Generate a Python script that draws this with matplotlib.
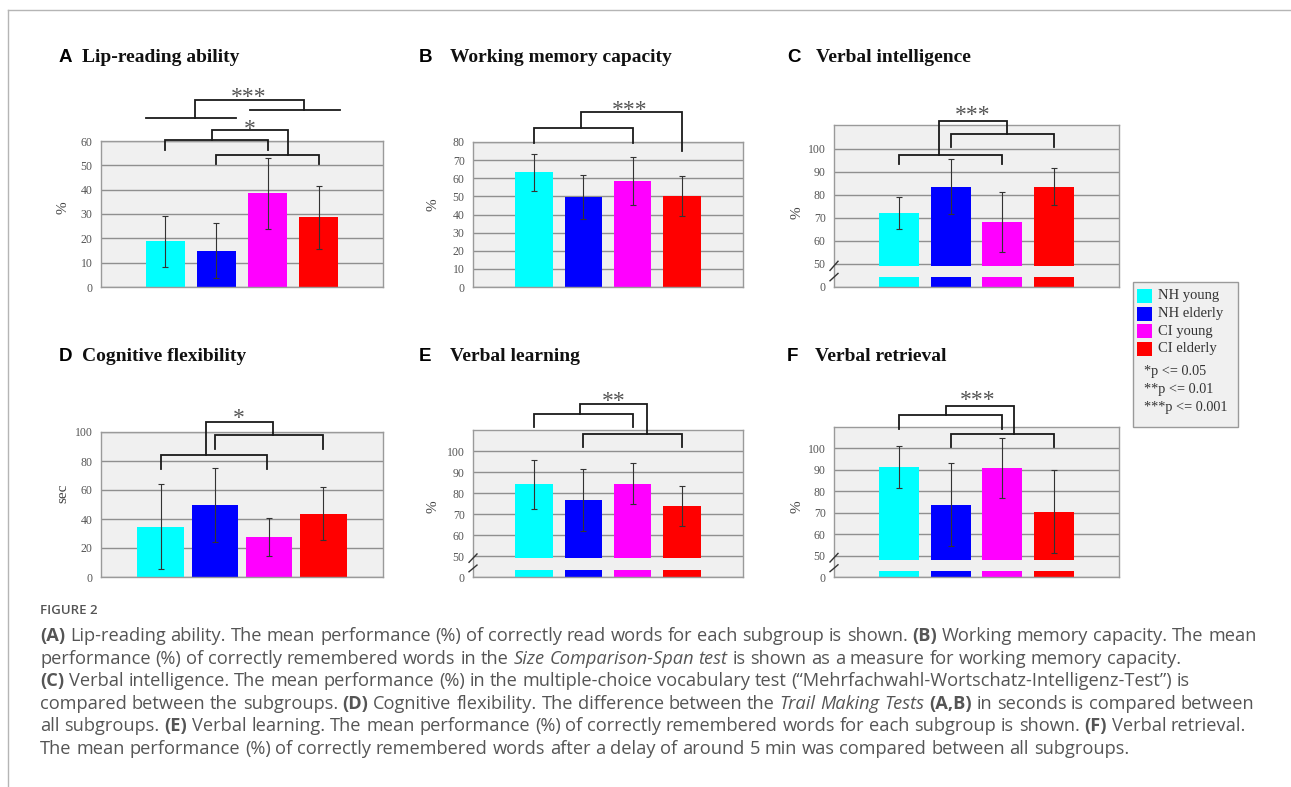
import matplotlib
matplotlib.use("Agg")
import matplotlib.pyplot as plt
from matplotlib.patches import Rectangle

# ---------------------------------------------------------------- data
groups = ["NH young", "NH elderly", "CI young", "CI elderly"]
group_colors = ["#00FFFF", "#0000FF", "#FF00FF", "#FF0000"]

lip_mean = [18.8, 14.9, 38.6, 28.7]
lip_sd = [10.4, 11.3, 14.6, 12.9]

wm_mean = [63.3, 49.7, 58.7, 50.2]
wm_sd = [10.2, 12.0, 13.2, 10.9]

vi_mean = [72.0, 83.5, 68.1, 83.5]
vi_sd = [7.0, 12.0, 12.9, 8.0]

cf_mean = [34.6, 49.4, 27.5, 43.7]
cf_sd = [29.3, 25.6, 13.3, 18.3]

vl_mean = [84.2, 76.9, 84.6, 73.9]
vl_sd = [11.5, 14.8, 9.8, 9.6]

vr_mean = [91.4, 73.7, 90.8, 70.4]
vr_sd = [9.9, 19.3, 13.9, 19.4]

sig_legend = ["*p <= 0.05", "**p <= 0.01", "***p <= 0.001"]

# ---------------------------------------------------------------- styling
W, H = 1291, 787
SERIF = ["Liberation Serif", "DejaVu Serif"]
SANS = ["Liberation Sans", "DejaVu Sans"]
CAP = ["Open Sans", "DejaVu Sans"]
BRACKET = "#1a1a1a"

fig = plt.figure(figsize=(W / 100, H / 100), dpi=100)
fig.patch.set_facecolor("white")

# full-figure overlay in pixel units for frame, titles, legend and caption
ov = fig.add_axes([0, 0, 1, 1], zorder=0)
ov.set_xlim(0, W)
ov.set_ylim(H, 0)
ov.axis("off")

# page frame
ov.plot([8, W], [10, 10], color="#b5b5b5", lw=1.0)
ov.plot([8, 8], [10, H], color="#b5b5b5", lw=1.0)


def panel_axes(l, t, r, b):
    return fig.add_axes([l / W, 1 - b / H, (r - l) / W, (b - t) / H], zorder=2)


def bracket(ax, x1, x2, y, y1, y2):
    ax.plot([x1, x1, x2, x2], [y1, y, y, y2], color=BRACKET, lw=1.3,
            clip_on=False, zorder=5, solid_joinstyle="miter")


def stars(ax, x, y, s, fs=17):
    ax.annotate(s, xy=(x, y), xytext=(0, -0.5 * fs), textcoords="offset points",
                ha="center", va="baseline", fontsize=fs, color="#555555",
                family=SERIF, annotation_clip=False)


def draw_panel(box, means, sds, ylim, ticks, ticklabels, xlim, width,
               broken=None, stub=None, breaks=False):
    ax = panel_axes(*box)
    ax.set_facecolor("#f0f0f0")
    ax.set_xlim(*xlim)
    ax.set_ylim(*ylim)
    ax.set_xticks([])
    ax.set_yticks(ticks)
    ax.set_yticklabels(ticklabels)
    ax.grid(axis="y", color="#8f8f8f", lw=1.0)
    ax.set_axisbelow(True)
    for sp in ax.spines.values():
        sp.set_color("#9a9a9a")
        sp.set_linewidth(1.0)
    ax.tick_params(axis="y", length=0, pad=6, labelsize=8.5, labelcolor="#555555")
    for lab in ax.get_yticklabels():
        lab.set_family(SERIF)
    x = list(range(len(means)))
    if broken is None:
        ax.bar(x, means, width=width, color=group_colors, zorder=2)
    else:
        ax.bar(x, [m - broken for m in means], bottom=broken, width=width,
               color=group_colors, zorder=2)
        ax.bar(x, [stub] * len(means), bottom=ylim[0], width=width,
               color=group_colors, zorder=2)
    ax.errorbar(x, means, yerr=sds, fmt="none", ecolor="#333333",
                elinewidth=0.8, capsize=2, capthick=0.8, zorder=3)
    if breaks:
        upp = (xlim[1] - xlim[0]) / (box[2] - box[0])
        x0 = xlim[0]
        for lo, hi in [(47.0, 51.0), (42.5, 45.7)]:
            ax.plot([x0 - 4 * upp, x0 + 4 * upp], [lo, hi], color="#333333",
                    lw=1.0, clip_on=False, zorder=6)
    return ax


STD_X = (-1.25, 4.25)

# A  Lip-reading ability
axA = draw_panel((101, 141, 383, 287), lip_mean, lip_sd, (0, 60),
                 range(0, 61, 10), [str(v) for v in range(0, 61, 10)], STD_X, 0.76)
bracket(axA, 0, 2, 60.3, 56.2, 56.2)
bracket(axA, 1, 3, 54.1, 50.4, 50.4)
bracket(axA, 0.91, 2.39, 64.4, 60.3, 54.1)
stars(axA, 1.65, 67.3, "*")
bracket(axA, -0.38, 1.38, 69.3, 69.3, 69.3)
bracket(axA, 1.65, 3.42, 72.6, 72.6, 72.6)
bracket(axA, 0.59, 2.70, 76.7, 69.3, 72.6)
stars(axA, 1.63, 80.4, "***")

# B  Working memory capacity
axB = draw_panel((473, 142, 743, 287), wm_mean, wm_sd, (0, 80),
                 range(0, 81, 10), [str(v) for v in range(0, 81, 10)], STD_X, 0.77)
bracket(axB, 0, 2, 87.9, 79.6, 79.6)
bracket(axB, 0.95, 3.0, 96.6, 87.9, 74.9)
stars(axB, 1.95, 100.8, "***")

BROKEN_TICKS = [40, 50, 60, 70, 80, 90, 100]
BROKEN_LABELS = ["0", "50", "60", "70", "80", "90", "100"]

# C  Verbal intelligence
axC = draw_panel((834, 125, 1119, 286.5), vi_mean, vi_sd, (40, 110.4),
                 BROKEN_TICKS, BROKEN_LABELS, STD_X, 0.77,
                 broken=49.0, stub=4.1, breaks=True)
bracket(axC, 0, 2, 97.4, 93.2, 93.2)
bracket(axC, 1, 3, 106.5, 100.7, 100.7)
bracket(axC, 0.77, 2.08, 112.0, 97.4, 106.5)
stars(axC, 1.43, 117.1, "***")

# D  Cognitive flexibility
axD = draw_panel((101, 432, 383, 577), cf_mean, cf_sd, (0, 100),
                 range(0, 101, 20), [str(v) for v in range(0, 101, 20)],
                 (-1.1, 4.1), 0.86)
bracket(axD, 0, 1.97, 84.4, 74.8, 74.8)
bracket(axD, 1, 3, 97.9, 88.6, 88.6)
bracket(axD, 0.83, 2.08, 106.9, 84.4, 97.9)
stars(axD, 1.44, 113.7, "*")

# E  Verbal learning
axE = draw_panel((473, 430, 743, 577), vl_mean, vl_sd, (40, 110.2),
                 BROKEN_TICKS, BROKEN_LABELS, STD_X, 0.77,
                 broken=48.9, stub=3.4, breaks=True)
bracket(axE, 0, 2, 117.7, 111.5, 111.5)
bracket(axE, 1, 3, 108.1, 102.2, 102.2)
bracket(axE, 0.93, 2.30, 122.5, 117.7, 108.1)
stars(axE, 1.61, 126.9, "**")

# F  Verbal retrieval
axF = draw_panel((834, 427, 1119, 577), vr_mean, vr_sd, (40, 110.0),
                 BROKEN_TICKS, BROKEN_LABELS, STD_X, 0.77,
                 broken=48.0, stub=2.6, breaks=True)
bracket(axF, 0, 2, 115.4, 109.1, 109.1)
bracket(axF, 1, 3, 106.9, 100.5, 100.5)
bracket(axF, 0.92, 2.23, 119.7, 115.4, 106.9)
stars(axF, 1.53, 125.5, "***")

# axis titles (y)
for (x, y, s) in [(63, 208, "%"), (433, 205, "%"), (797, 213, "%"),
                  (63, 493, "sec"), (433, 507, "%"), (797, 507, "%")]:
    ov.text(x, y, s, rotation=90, ha="center", va="center", fontsize=11,
            color="#444444", family=SERIF)

# panel titles
titles = [("A", 59, 82, 62, "Lip-reading ability"),
          ("B", 419, 450, 62, "Working memory capacity"),
          ("C", 787, 816, 62, "Verbal intelligence"),
          ("D", 59, 82, 361, "Cognitive flexibility"),
          ("E", 419, 450, 361, "Verbal learning"),
          ("F", 787, 815, 361, "Verbal retrieval")]
for letter, xl, xt, yb, title in titles:
    ov.text(xl, yb, letter, ha="left", va="baseline", fontsize=13.5,
            fontweight="bold", family=SANS, color="black")
    ov.text(xt, yb, title, ha="left", va="baseline", fontsize=14,
            fontweight="bold", family=SERIF, color="#111111")

# legend
ov.add_patch(Rectangle((1133, 282), 105, 145, facecolor="#f0f0f0",
                       edgecolor="#9a9a9a", lw=1.0))
for i, (g, c) in enumerate(zip(groups, group_colors)):
    yc = 296 + i * 17.5
    ov.add_patch(Rectangle((1137, yc - 7), 15, 14, facecolor=c, edgecolor="none"))
    ov.text(1158, yc, g, ha="left", va="center", fontsize=10.5, family=SERIF,
            color="#333333")
for i, s in enumerate(sig_legend):
    ov.text(1144, 371.5 + i * 17.8, s, ha="left", va="center", fontsize=10.3,
            family=SERIF, color="#333333")

# ---------------------------------------------------------------- caption
CAP_COLOR = "#555555"
R, B, I = "normal", "bold", "italic"
caption_lines = [
    [("(A)", B), ("Lip-reading ability. The mean performance (%) of correctly read words for each subgroup is shown.", R),
     ("(B)", B), ("Working memory capacity. The mean", R)],
    [("performance (%) of correctly remembered words in the", R), ("Size Comparison-Span test", I),
     ("is shown as a measure for working memory capacity.", R)],
    [("(C)", B), ("Verbal intelligence. The mean performance (%) in the multiple-choice vocabulary test "
                  "(\u201cMehrfachwahl-Wortschatz-Intelligenz-Test\u201d) is", R)],
    [("compared between the subgroups.", R), ("(D)", B),
     ("Cognitive flexibility. The difference between the", R), ("Trail Making Tests", I),
     ("(A,B)", B), ("in seconds is compared between", R)],
    [("all subgroups.", R), ("(E)", B),
     ("Verbal learning. The mean performance (%) of correctly remembered words for each subgroup is shown.", R),
     ("(F)", B), ("Verbal retrieval.", R)],
    [("The mean performance (%) of correctly remembered words after a delay of around 5 min was compared between all subgroups.", R)],
]

renderer = fig.canvas.get_renderer()


def style_kw(st):
    kw = dict(family=CAP, color=CAP_COLOR)
    if st == B:
        kw["fontweight"] = "bold"
    elif st == I:
        kw["fontstyle"] = "italic"
    return kw


def measure(s, size, st):
    t = ov.text(0, 0, s, fontsize=size, **style_kw(st))
    w = t.get_window_extent(renderer).width
    t.remove()
    return w


def layout(line, x0, y, size, draw):
    space = measure("n n", size, R) - measure("nn", size, R)
    x = x0
    for seg, st in line:
        for word in seg.split(" "):
            if draw:
                ov.text(x, y, word, fontsize=size, ha="left", va="baseline",
                        **style_kw(st))
            x += measure(word, size, st) + space
    return x - space - x0


base = 10.0
w1 = layout(caption_lines[0], 40, 0, base, False)
cap_size = base * (1258 - 40) / w1

ov.text(40, 614, "FIGURE 2", fontsize=9.5, fontweight="semibold", family=CAP,
        color="#555555", ha="left", va="baseline")
for i, line in enumerate(caption_lines):
    layout(line, 40, 641 + i * 22.6, cap_size, True)

fig.savefig("out.png", dpi=100, facecolor="white")
